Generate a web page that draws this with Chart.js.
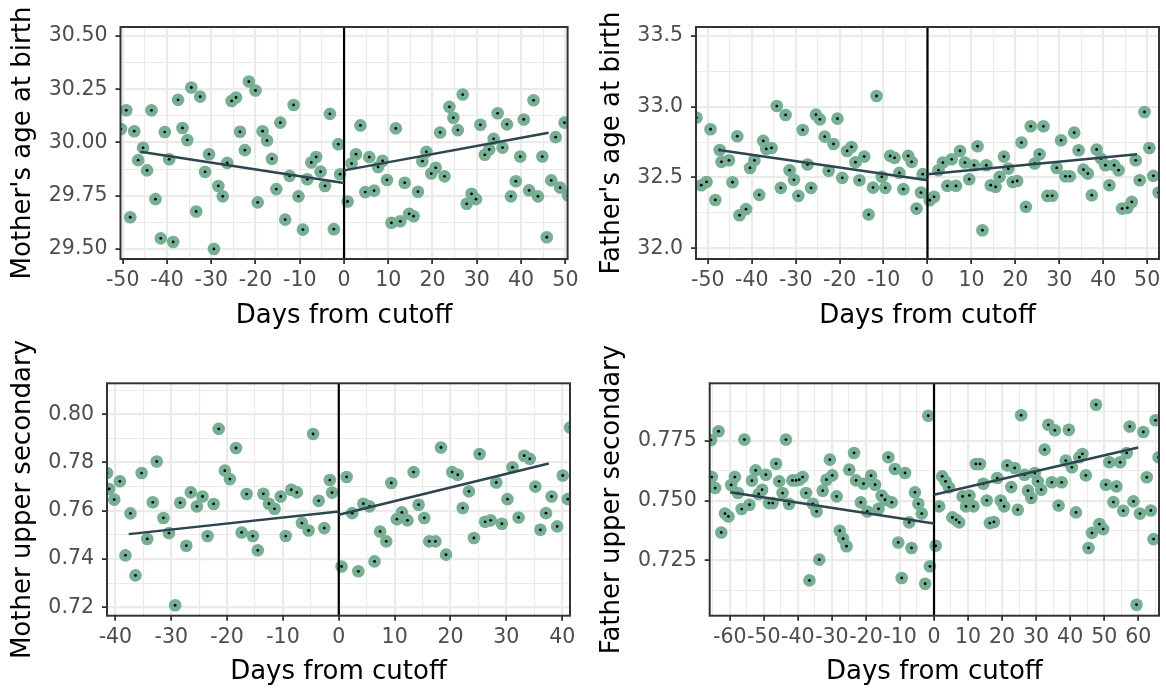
<!DOCTYPE html>
<html>
<head>
<meta charset="utf-8">
<script src="https://cdn.jsdelivr.net/npm/chart.js@4.4.1/dist/chart.umd.min.js"></script>
<style>
  html, body { margin: 0; padding: 0; background: #fff; }
  #wrap { position: relative; width: 1166px; height: 691px; }
  canvas { position: absolute; }
</style>
</head>
<body>
<div id="wrap">
  <canvas id="momAge" width="583" height="340" style="left:0;top:0"></canvas>
  <canvas id="dadAge" width="583" height="340" style="left:583px;top:0"></canvas>
  <canvas id="momEdu" width="583" height="351" style="left:0;top:340px"></canvas>
  <canvas id="dadEdu" width="583" height="351" style="left:583px;top:340px"></canvas>
</div>
<script>
// ---- Mother's age at birth ----
const momAgeX = [-50.4,-49.2,-48.3,-47.4,-46.5,-45.4,-44.5,-43.5,-42.6,-41.4,-40.5,-39.5,-38.6,-37.5,-36.5,-35.4,-34.5,-33.4,-32.5,-31.4,-30.5,-29.4,-28.4,-27.4,-26.4,-25.4,-24.4,-23.5,-22.4,-21.5,-20.0,-19.5,-18.4,-17.4,-16.3,-15.3,-14.4,-13.3,-12.3,-11.4,-10.3,-9.3,-8.3,-7.4,-6.3,-5.3,-4.3,-3.2,-2.3,-1.3,-0.9,
  0.8,1.7,2.7,3.7,4.8,5.7,6.8,7.7,8.7,9.7,10.7,11.7,12.7,13.7,14.7,15.7,16.7,17.7,18.6,19.7,20.7,21.7,22.7,23.8,24.7,25.7,26.8,27.7,28.8,29.8,30.8,31.8,32.8,33.8,34.7,35.8,36.8,37.7,38.8,39.8,40.6,41.8,42.8,43.8,44.8,45.8,46.8,47.8,48.8,49.8,50.6];
const momAgeY = [30.063,30.151,29.649,30.053,29.917,29.975,29.869,30.151,29.734,29.550,30.049,29.921,29.533,30.200,30.068,30.011,30.258,29.676,30.215,29.862,29.945,29.500,29.796,29.747,29.904,30.195,30.211,30.050,29.964,30.286,30.244,29.719,30.053,30.009,29.923,29.781,30.093,29.638,29.843,30.176,29.747,29.591,29.827,29.906,29.932,29.863,29.796,30.134,29.593,29.992,29.851,
  29.723,29.901,29.945,30.080,29.767,29.931,29.774,29.885,29.914,29.824,29.623,30.066,29.630,29.811,29.665,29.654,29.769,29.912,29.956,29.854,29.881,30.047,29.841,30.167,30.116,30.058,30.225,29.712,29.759,29.734,30.083,29.942,29.967,30.017,30.137,29.976,30.085,29.747,29.818,29.934,30.108,29.775,30.198,29.747,29.934,29.555,29.822,30.025,29.788,30.093,29.752];
const momAgeFitLeftX = [-46, 0];
const momAgeFitLeftY = [29.956, 29.810];
const momAgeFitRightX = [0, 46.2];
const momAgeFitRightY = [29.869, 30.046];
const momAgeYTicks = [29.5, 29.75, 30.0, 30.25, 30.5];
const momAgeYLabels = ['29.50', '29.75', '30.00', '30.25', '30.50'];
const momAgeYMinor = [29.625, 29.875, 30.125, 30.375];
const momAgeXTicks = [-50, -40, -30, -20, -10, 0, 10, 20, 30, 40, 50];
const momAgeXMinor = [-45, -35, -25, -15, -5, 5, 15, 25, 35, 45];

// ---- Father's age at birth ----
const dadAgeX = [-52.6,-51.5,-50.3,-49.4,-48.3,-47.3,-46.9,-45.2,-44.4,-43.3,-42.8,-41.3,-40.4,-39.4,-38.3,-37.4,-36.7,-35.5,-34.3,-33.4,-32.3,-31.4,-30.4,-29.4,-28.4,-27.3,-26.5,-25.4,-24.5,-23.4,-22.5,-21.4,-20.5,-19.4,-18.3,-17.3,-16.4,-15.5,-14.4,-13.4,-12.4,-11.6,-10.4,-9.6,-8.5,-7.5,-6.4,-5.5,-4.4,-3.6,-2.5,-1.5,-1.1,
  0.5,1.5,2.5,3.5,4.5,5.5,6.5,7.4,8.5,9.5,10.6,11.4,12.5,13.4,14.4,15.5,16.4,17.4,18.4,19.4,20.4,21.4,22.4,23.5,24.4,25.5,26.4,27.3,28.4,29.4,30.4,31.4,32.4,33.4,34.4,35.5,36.5,37.4,38.5,39.5,40.5,41.4,42.5,43.5,44.3,45.5,46.5,47.4,48.3,49.4,50.5,51.4,52.6];
const dadAgeY = [32.923,32.446,32.469,32.841,32.342,32.695,32.611,32.622,32.467,32.792,32.234,32.277,32.568,32.622,32.378,32.759,32.702,32.709,33.005,32.427,32.942,32.552,32.484,32.371,32.836,32.592,32.427,32.944,32.911,32.789,32.547,32.737,32.916,32.498,32.688,32.716,32.608,32.481,32.648,32.239,32.429,33.076,32.505,32.427,32.653,32.639,32.533,32.418,32.653,32.611,32.281,32.394,32.524,
  32.340,32.364,32.552,32.606,32.441,32.629,32.441,32.688,32.606,32.488,32.587,32.721,32.128,32.587,32.446,32.434,32.505,32.648,32.563,32.469,32.476,32.747,32.293,32.862,32.599,32.665,32.862,32.371,32.371,32.568,32.763,32.509,32.509,32.817,32.693,32.556,32.528,32.375,32.698,32.634,32.587,32.446,32.587,32.552,32.281,32.286,32.328,32.622,32.481,32.963,32.709,32.512,32.394];
const dadAgeFitLeftX = [-47.5, 0];
const dadAgeFitLeftY = [32.695, 32.481];
const dadAgeFitRightX = [0, 47.7];
const dadAgeFitRightY = [32.524, 32.665];
const dadAgeYTicks = [32.0, 32.5, 33.0, 33.5];
const dadAgeYLabels = ['32.0', '32.5', '33.0', '33.5'];
const dadAgeYMinor = [32.25, 32.75, 33.25];
const dadAgeXTicks = [-50, -40, -30, -20, -10, 0, 10, 20, 30, 40, 50];
const dadAgeXMinor = [-45, -35, -25, -15, -5, 5, 15, 25, 35, 45];

// ---- Mother upper secondary ----
const momEduX = [-41.5,-41.1,-40.2,-39.2,-38.2,-37.3,-36.4,-35.3,-34.3,-33.3,-32.6,-31.4,-30.4,-29.3,-28.4,-27.3,-26.5,-25.4,-24.4,-23.5,-22.4,-21.5,-20.4,-19.5,-18.4,-17.4,-16.5,-15.4,-14.5,-13.5,-12.5,-11.5,-10.4,-9.5,-8.5,-7.5,-6.6,-5.4,-4.6,-3.6,-2.6,-1.6,-1.2,
  0.5,1.4,2.4,3.5,4.4,5.5,6.4,7.4,8.5,9.4,10.4,11.3,12.3,13.4,14.3,15.3,16.2,17.3,18.3,19.2,20.3,21.3,22.2,23.3,24.2,25.2,26.2,27.2,28.2,29.2,30.2,31.1,32.2,33.2,34.2,35.2,36.1,37.1,38.1,39.1,40.1,41.0,41.4];
const momEduY = [0.7756,0.7690,0.7646,0.7722,0.7415,0.7589,0.7332,0.7756,0.7483,0.7635,0.7804,0.7570,0.7507,0.7208,0.7633,0.7455,0.7676,0.7618,0.7659,0.7495,0.7628,0.7939,0.7766,0.7731,0.7860,0.7510,0.7669,0.7495,0.7436,0.7670,0.7629,0.7608,0.7659,0.7495,0.7687,0.7676,0.7549,0.7518,0.7918,0.7641,0.7528,0.7727,0.7675,
  0.7369,0.7740,0.7590,0.7349,0.7629,0.7618,0.7390,0.7514,0.7473,0.7715,0.7565,0.7593,0.7560,0.7760,0.7625,0.7570,0.7473,0.7473,0.7862,0.7418,0.7760,0.7749,0.7611,0.7680,0.7487,0.7835,0.7554,0.7560,0.7717,0.7546,0.7648,0.7780,0.7572,0.7828,0.7815,0.7700,0.7521,0.7590,0.7659,0.7535,0.7746,0.7648,0.7945];
const momEduFitLeftX = [-37.6, 0];
const momEduFitLeftY = [0.7503, 0.7597];
const momEduFitRightX = [0, 37.6];
const momEduFitRightY = [0.7583, 0.7796];
const momEduYTicks = [0.72, 0.74, 0.76, 0.78, 0.80];
const momEduYLabels = ['0.72', '0.74', '0.76', '0.78', '0.80'];
const momEduYMinor = [0.73, 0.75, 0.77, 0.79, 0.81];
const momEduXTicks = [-40, -30, -20, -10, 0, 10, 20, 30, 40];
const momEduXMinor = [-35, -25, -15, -5, 5, 15, 25, 35];

// ---- Father upper secondary ----
const dadEduX = [-65.5,-65.3,-64.3,-63.3,-62.5,-61.4,-60.4,-59.6,-58.5,-57.6,-56.5,-55.7,-54.2,-53.5,-52.4,-51.5,-50.5,-49.4,-48.5,-47.4,-46.4,-45.5,-44.5,-43.5,-42.6,-41.6,-40.5,-39.6,-38.6,-37.6,-36.6,-35.6,-34.5,-33.7,-32.7,-31.6,-30.6,-29.9,-28.6,-27.7,-26.7,-25.7,-24.9,-23.5,-22.9,-21.5,-20.7,-19.6,-18.5,-17.3,-16.3,-15.4,-14.4,-13.4,-12.4,-11.5,-10.5,-9.5,-8.5,-7.3,-6.6,-5.6,-4.6,-3.6,-2.6,-1.7,-1.2,
  0.5,1.5,2.4,3.4,4.4,5.4,6.5,7.4,8.4,9.4,10.4,11.6,12.3,13.5,14.5,15.5,16.4,17.6,18.6,19.6,20.6,21.5,22.7,23.7,24.6,25.6,26.6,27.6,28.6,29.6,30.5,31.5,32.5,33.6,34.6,35.5,36.6,37.5,38.7,39.6,40.5,41.7,42.7,43.6,44.6,45.4,46.4,47.6,48.6,49.7,50.5,51.5,52.7,53.6,54.7,55.6,56.6,57.5,58.6,59.5,60.5,61.5,62.5,63.7,64.5,65.1,66.0];
const dadEduY = [0.7754,0.7599,0.7553,0.7791,0.7367,0.7446,0.7434,0.7566,0.7599,0.7532,0.7465,0.7756,0.7483,0.7584,0.7627,0.7528,0.7546,0.7609,0.7490,0.7490,0.7655,0.7581,0.7532,0.7756,0.7486,0.7585,0.7585,0.7588,0.7599,0.7532,0.7166,0.7487,0.7455,0.7253,0.7542,0.7588,0.7672,0.7606,0.7518,0.7374,0.7341,0.7309,0.7630,0.7700,0.7585,0.7493,0.7571,0.7455,0.7605,0.7567,0.7466,0.7522,0.7504,0.7682,0.7493,0.7633,0.7325,0.7176,0.7616,0.7409,0.7302,0.7535,0.7487,0.7446,0.7152,0.7856,0.7225,
  0.7311,0.7476,0.7602,0.7581,0.7556,0.7430,0.7420,0.7409,0.7518,0.7476,0.7522,0.7476,0.7654,0.7654,0.7571,0.7501,0.7406,0.7411,0.7595,0.7501,0.7476,0.7648,0.7557,0.7637,0.7462,0.7858,0.7609,0.7542,0.7511,0.7616,0.7581,0.7546,0.7714,0.7818,0.7577,0.7795,0.7480,0.7577,0.7668,0.7797,0.7640,0.7451,0.7682,0.7696,0.7606,0.7302,0.7365,0.7902,0.7402,0.7381,0.7567,0.7661,0.7494,0.7560,0.7661,0.7458,0.7700,0.7811,0.7497,0.7064,0.7446,0.7788,0.7598,0.7459,0.7339,0.7837,0.7682];
const dadEduFitLeftX = [-59.9, 0];
const dadEduFitLeftY = [0.7535, 0.7404];
const dadEduFitRightX = [0, 60];
const dadEduFitRightY = [0.7525, 0.7723];
const dadEduYTicks = [0.725, 0.75, 0.775];
const dadEduYLabels = ['0.725', '0.750', '0.775'];
const dadEduYMinor = [0.7125, 0.7375, 0.7625, 0.7875];
const dadEduXTicks = [-60, -50, -40, -30, -20, -10, 0, 10, 20, 30, 40, 50, 60];
const dadEduXMinor = [-65, -55, -45, -35, -25, -15, -5, 5, 15, 25, 35, 45, 55, 65];

const FONT = 'DejaVu Sans';
const pointGreen = '#76AF93';
const fitColor = '#2E444E';

// draws the dark frame around the panel (ggplot theme_bw border)
const panelBorder = {
  id: 'panelBorder',
  afterDatasetsDraw(chart) {
    const a = chart.chartArea, ctx = chart.ctx;
    ctx.save();
    ctx.strokeStyle = '#333333';
    ctx.lineWidth = 2;
    ctx.strokeRect(a.left, a.top, a.right - a.left, a.bottom - a.top);
    ctx.restore();
  }
};

function near(list, v) {
  return list.findIndex(m => Math.abs(m - v) < 1e-9);
}

function gridStyle(majors) {
  return {
    color: '#EBEBEB',
    lineWidth: c => (c.tick && near(majors, c.tick.value) >= 0) ? 2.2 : 1.1,
    tickColor: c => (c.tick && near(majors, c.tick.value) >= 0) ? '#333333' : 'rgba(0,0,0,0)',
    tickLength: 5,
    tickWidth: 1.8
  };
}

function toPoints(xs, ys) {
  return xs.map((x, i) => ({ x: x, y: ys[i] }));
}

function makePanel(id, p) {
  const allX = p.xMajor.concat(p.xMinor).sort((a, b) => a - b);
  const allY = p.yMajor.concat(p.yMinor).sort((a, b) => a - b);
  const pts = toPoints(p.xs, p.ys);

  new Chart(document.getElementById(id), {
    type: 'scatter',
    data: {
      datasets: [
        { type: 'line', data: toPoints(p.fitLX, p.fitLY), borderColor: fitColor, borderWidth: 2.5, pointRadius: 0, order: 0 },
        { type: 'line', data: toPoints(p.fitRX, p.fitRY), borderColor: fitColor, borderWidth: 2.5, pointRadius: 0, order: 0 },
        { type: 'line', data: [{ x: 0, y: p.yMin }, { x: 0, y: p.yMax }], borderColor: '#000000', borderWidth: 2.2, pointRadius: 0, order: 0 },
        { data: pts, pointRadius: 1.4, backgroundColor: '#000000', borderWidth: 0, order: 1, clip: 0 },
        { data: pts, pointRadius: 6.3, backgroundColor: pointGreen, borderWidth: 0, order: 2, clip: 0 }
      ]
    },
    options: {
      responsive: false,
      animation: false,
      events: [],
      layout: { padding: { left: 0, top: p.top, right: p.w - p.right, bottom: 0 } },
      plugins: { legend: { display: false }, tooltip: { enabled: false } },
      scales: {
        x: {
          type: 'linear', min: p.xMin, max: p.xMax,
          afterBuildTicks: s => { s.ticks = allX.map(v => ({ value: v })); },
          afterFit: s => { s.height = p.h - p.bottom; },
          grid: gridStyle(p.xMajor),
          border: { display: false },
          ticks: {
            autoSkip: false, maxRotation: 0, padding: 4.5, color: '#4D4D4D',
            font: { family: FONT, size: 20.5 },
            callback: v => near(p.xMajor, v) >= 0 ? String(v) : ''
          },
          title: { display: true, text: 'Days from cutoff', color: '#000000',
                   font: { family: FONT, size: 26 }, padding: { top: 0, bottom: p.xTitlePad } }
        },
        y: {
          type: 'linear', min: p.yMin, max: p.yMax,
          afterBuildTicks: s => { s.ticks = allY.map(v => ({ value: v })); },
          afterFit: s => { s.width = p.left; },
          grid: gridStyle(p.yMajor),
          border: { display: false },
          ticks: {
            autoSkip: false, padding: 8, color: '#4D4D4D',
            font: { family: FONT, size: 20.5 },
            callback: v => { const i = near(p.yMajor, v); return i >= 0 ? p.yLabels[i] : ''; }
          },
          title: { display: true, text: p.yTitle, color: '#000000',
                   font: { family: FONT, size: 26 }, padding: { top: p.yTitlePad, bottom: 0 } }
        }
      }
    },
    plugins: [panelBorder]
  });
}

makePanel('momAge', {
  w: 583, h: 340, left: 120.5, right: 569, top: 27, bottom: 259,
  xMin: -50.5, xMax: 50.5, yMin: 29.453, yMax: 30.542,
  xMajor: momAgeXTicks, xMinor: momAgeXMinor,
  yMajor: momAgeYTicks, yLabels: momAgeYLabels, yMinor: momAgeYMinor,
  xs: momAgeX, ys: momAgeY,
  fitLX: momAgeFitLeftX, fitLY: momAgeFitLeftY, fitRX: momAgeFitRightX, fitRY: momAgeFitRightY,
  yTitle: "Mother's age at birth", yTitlePad: 7.9, xTitlePad: 8.4
});

makePanel('dadAge', {
  w: 583, h: 340, left: 113, right: 576, top: 27, bottom: 259,
  xMin: -52.7, xMax: 52.7, yMin: 31.925, yMax: 33.563,
  xMajor: dadAgeXTicks, xMinor: dadAgeXMinor,
  yMajor: dadAgeYTicks, yLabels: dadAgeYLabels, yMinor: dadAgeYMinor,
  xs: dadAgeX, ys: dadAgeY,
  fitLX: dadAgeFitLeftX, fitLY: dadAgeFitLeftY, fitRX: dadAgeFitRightX, fitRY: dadAgeFitRightY,
  yTitle: "Father's age at birth", yTitlePad: 13.7, xTitlePad: 8.4
});

makePanel('momEdu', {
  w: 583, h: 351, left: 107, right: 570, top: 43.3, bottom: 275.7,
  xMin: -41.5, xMax: 41.4, yMin: 0.7165, yMax: 0.8128,
  xMajor: momEduXTicks, xMinor: momEduXMinor,
  yMajor: momEduYTicks, yLabels: momEduYLabels, yMinor: momEduYMinor,
  xs: momEduX, ys: momEduY,
  fitLX: momEduFitLeftX, fitLY: momEduFitLeftY, fitRX: momEduFitRightX, fitRY: momEduFitRightY,
  yTitle: 'Mother upper secondary', yTitlePad: 7.9, xTitlePad: 3.5
});

makePanel('dadEdu', {
  w: 583, h: 351, left: 126.7, right: 576, top: 43.3, bottom: 275.7,
  xMin: -65.9, xMax: 66.1, yMin: 0.7018, yMax: 0.7992,
  xMajor: dadEduXTicks, xMinor: dadEduXMinor,
  yMajor: dadEduYTicks, yLabels: dadEduYLabels, yMinor: dadEduYMinor,
  xs: dadEduX, ys: dadEduY,
  fitLX: dadEduFitLeftX, fitLY: dadEduFitLeftY, fitRX: dadEduFitRightX, fitRY: dadEduFitRightY,
  yTitle: 'Father upper secondary', yTitlePad: 13.7, xTitlePad: 3.5
});
</script>
</body>
</html>
